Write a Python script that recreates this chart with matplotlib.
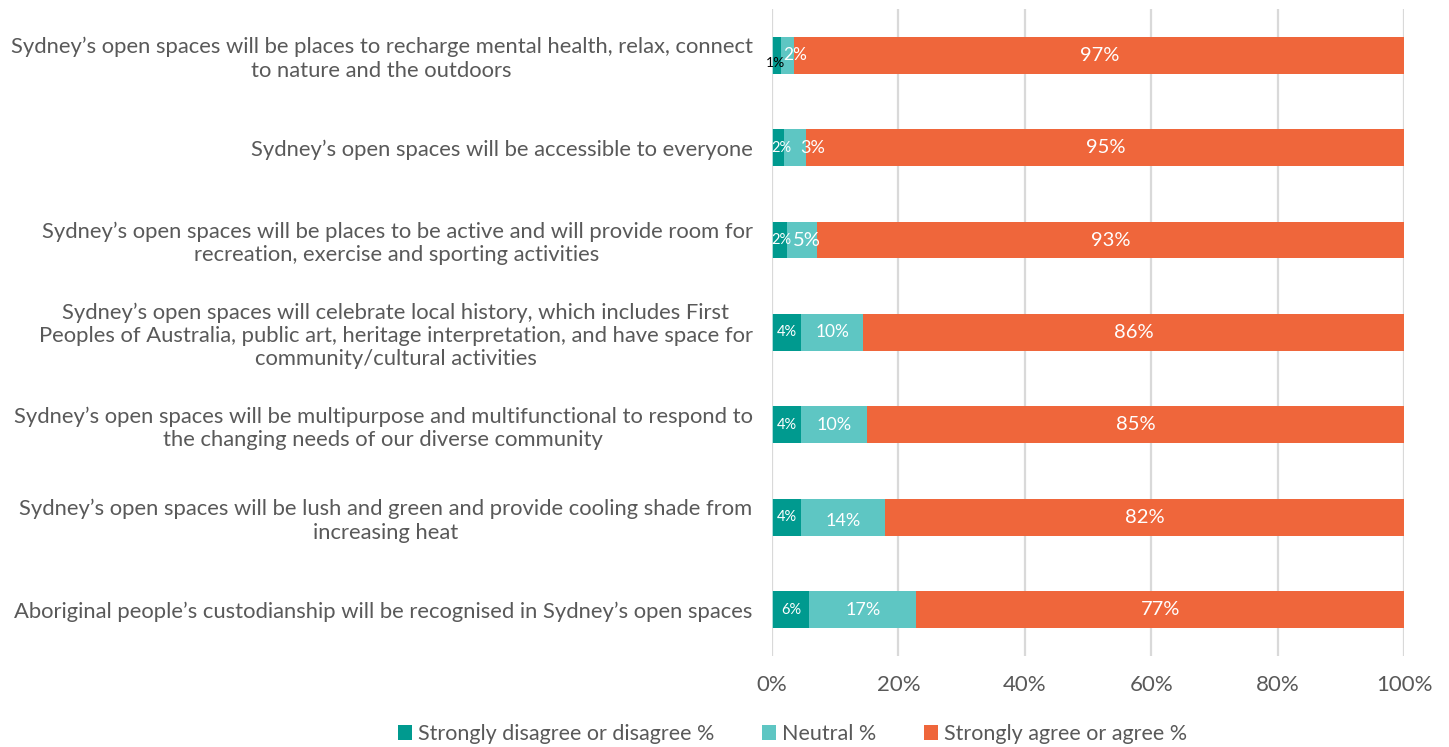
import matplotlib.pyplot as plt
import numpy as np

categories = [
    "Sydney\u2019s open spaces will be places to recharge mental health, relax, connect\nto nature and the outdoors",
    "Sydney\u2019s open spaces will be accessible to everyone",
    "Sydney\u2019s open spaces will be places to be active and will provide room for\nrecreation, exercise and sporting activities",
    "Sydney\u2019s open spaces will celebrate local history, which includes First\nPeoples of Australia, public art, heritage interpretation, and have space for\ncommunity/cultural activities",
    "Sydney\u2019s open spaces will be multipurpose and multifunctional to respond to\nthe changing needs of our diverse community",
    "Sydney\u2019s open spaces will be lush and green and provide cooling shade from\nincreasing heat",
    "Aboriginal people\u2019s custodianship will be recognised in Sydney\u2019s open spaces",
]
disagree = [1.3, 1.8, 2.2, 4.4, 4.4, 4.4, 5.7]
neutral = [2.0, 3.5, 4.8, 9.9, 10.4, 13.4, 17.0]
agree = [96.7, 94.7, 93.0, 85.7, 85.2, 82.2, 77.3]
disagree_lbl = ["1%", "2%", "2%", "4%", "4%", "4%", "6%"]
neutral_lbl = ["2%", "3%", "5%", "10%", "10%", "14%", "17%"]
agree_lbl = ["97%", "95%", "93%", "86%", "85%", "82%", "77%"]
series_names = ["Strongly disagree or disagree %", "Neutral %", "Strongly agree or agree %"]

c_dis, c_neu, c_agr = "#009a8f", "#5ec6c3", "#ef663b"
grey = "#595959"

plt.rcParams['font.family'] = ['Lato', 'DejaVu Sans']

fig = plt.figure(figsize=(14.49, 7.47), dpi=100)
ax = fig.add_axes([0.5328, 0.122, 0.4362, 0.866])

y = np.arange(len(categories))
h = 0.4
start = 0.15
ax.barh(y, disagree, left=start, height=h, color=c_dis, label=series_names[0], zorder=2)
left2 = start + np.array(disagree)
ax.barh(y, neutral, left=left2, height=h, color=c_neu, label=series_names[1], zorder=2)
left3 = left2 + np.array(neutral)
ax.barh(y, agree, left=left3, height=h, color=c_agr, label=series_names[2], zorder=2)
# thin sliver at the start of each bar
ax.barh(y, [start] * len(y), left=0, height=h, color="#a8dcd9", zorder=2)

# small label nudges (in % units) so the narrow segments stay readable
d_dx = [-0.3, 0.4, 0.3, 0.0, 0.0, 0.0, 0.0]
n_dx = [1.2, 2.7, 0.8, 0.0, 0.0, 0.0, 0.0]
d_fs = [10, 10.5, 10.5, 10.5, 10.5, 10.5, 10.5]
n_fs = [12.5, 13, 14.5, 12.5, 13, 13, 13]

for i in range(len(y)):
    d_col = "black" if i == 0 else "white"
    d_dy = 0.08 if i == 0 else 0.0
    ax.text(start + d_dx[i] + disagree[i] / 2, i + d_dy, disagree_lbl[i],
            ha="center", va="center", fontsize=d_fs[i], color=d_col, zorder=3)
    n_dy = 0.04 if i == 5 else 0.0
    ax.text(left2[i] + n_dx[i] + neutral[i] / 2, i + n_dy, neutral_lbl[i], ha="center",
            va="center", fontsize=n_fs[i], color="white", zorder=3)
    ax.text(left3[i] + agree[i] / 2, i, agree_lbl[i], ha="center", va="center",
            fontsize=14.5, color="white", zorder=3)

ax.set_ylim(len(y) - 0.5, -0.5)
ax.set_xlim(0, 100)
ax.set_yticks(y)
ax.set_yticklabels(categories, fontsize=15.8, color=grey, multialignment="center")
ax.set_xticks(np.arange(0, 101, 20))
ax.set_xticklabels([f"{v}%" for v in range(0, 101, 20)], fontsize=16, color=grey)
ax.tick_params(axis="y", length=0, pad=14)
ax.tick_params(axis="x", length=0, pad=14)
ax.grid(axis="x", color="#d9d9d9", linewidth=1.6, zorder=0)
for s in ax.spines.values():
    s.set_visible(False)

fig.legend(loc="lower center", bbox_to_anchor=(0.547, -0.022), ncol=3, frameon=False,
           fontsize=15.5, handlelength=0.65, handleheight=0.65, handletextpad=0.3,
           columnspacing=2.2, labelcolor=grey)

fig.savefig("out.png", dpi=100)
